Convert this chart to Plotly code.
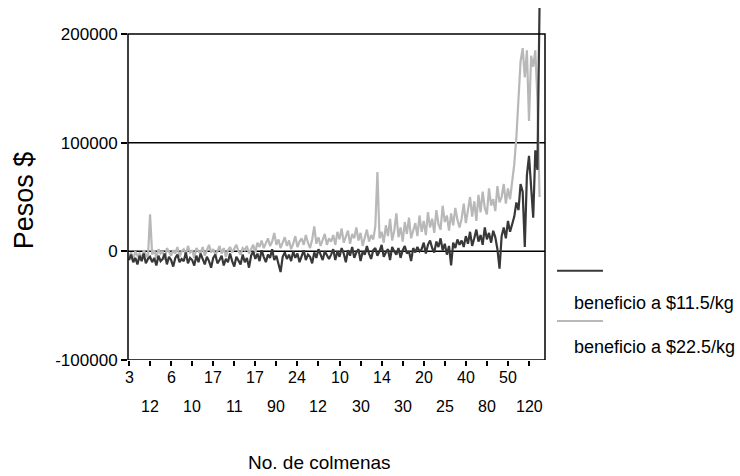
import plotly.graph_objects as go

# Beneficio (pesos) por observación
beneficio_11_5 = [
    -8000, -3000, -10000, -6000, -12000, -4000, -9000, -2000, -11000, -7000, -5000,
    -10000, -6000, -13000, -4000, -9000, -7000, -2000, -12000, -5000, -8000,
    -14000, -6000, -3000, -10000, -7000, -9000, -1000, -11000, -6000, -8000,
    -13000, -4000, -10000, -2000, -7000, -12000, -5000, -9000, -15000, -6000,
    -3000, -11000, -8000, -4000, -13000, -7000, -10000, -2000, -9000, -14000,
    -5000, -8000, -12000, -3000, -10000, -6000, -15000,
    -4000, 0, -7000, -2000, -9000, 1000, -5000, -10000, -3000, -6000,
    2000, -8000, -4000, -12000, -19000, -5000, -1000, -7000, -3000, -9000,
    0, -6000, -2000, -10000, -4000, 1000, -8000, -3000, -5000, -11000,
    -1000, -6000, 2000, -4000, -8000, 0, -3000, -7000,
    -3000, 2000, -8000, 0, -5000, 3000, -2000, -10000, 1000, -4000,
    4000, -6000, -1000, 2000, -9000, 0, -3000, 5000, -2000, -7000,
    1000, 3000, -4000, 0, 6000, -5000, -1000, 2000, -8000, 4000,
    0, -3000, 3000, -6000, 1000, 5000, -2000, 0, -9000, 3000,
    -1000, 4000, 0,
    2000, 8000, -2000, 6000, 10000, 3000, -1000, 9000, 4000, 12000,
    1000, 7000, -3000, 5000, -13000, 8000, 3000, 11000, 6000,
    10000, 4000, 14000, 7000, 18000, 5000, 12000, 20000, 9000, 15000,
    6000, 22000, 11000, 17000, 8000, 19000, 13000, 2000, -16000,
    14000, 22000, 12000, 28000, 18000, 25000, 32000, 45000, 38000, 62000,
    55000, 4000, 70000, 88000, 60000, 31000, 93000, 75000, 226000,
]

beneficio_22_5 = [
    -5000, -1000, -8000, 0, -4000, -2000, -7000, 1000, -3000, -6000, 34000,
    -3000, 1000, -6000, 2000, -2000, 0, -8000, 3000, -1000, -4000,
    1000, -2000, 4000, -5000, 0, 2000, -3000, 5000, -1000, 1000,
    -6000, 3000, 0, -2000, 4000, -4000, 1000, 6000, -1000, 2000,
    -3000, 0, 5000, -2000, 3000, -5000, 1000, 4000, -1000, 2000,
    6000, 0, -3000, 3000, 1000, 5000, -2000,
    2000, 6000, -1000, 8000, 4000, 10000, 3000, 7000, 12000, 5000,
    9000, 17000, 6000, 11000, 3000, 8000, 13000, 5000, 10000, 2000,
    7000, 14000, 4000, 9000, 12000, 6000, 15000, 8000, 3000, 11000,
    23000, 7000, 13000, 5000, 10000, 16000, 6000, 12000,
    9000, 15000, 6000, 18000, 11000, 21000, 8000, 14000, 19000, 7000,
    16000, 12000, 22000, 10000, 17000, 5000, 13000, 20000, 9000, 15000,
    11000, 23000, 73000, 12000, 18000, 8000, 24000, 14000, 30000, 10000,
    19000, 35000, 13000, 22000, 9000, 27000, 16000, 31000, 12000, 20000,
    26000, 14000, 33000,
    18000, 28000, 15000, 36000, 22000, 30000, 17000, 38000, 25000, 20000,
    42000, 27000, 33000, 19000, 35000, 24000, 40000, 29000, 22000,
    30000, 44000, 26000, 38000, 50000, 32000, 46000, 28000, 52000, 36000,
    55000, 40000, 34000, 58000, 42000, 48000, 37000, 60000, 45000,
    50000, 62000, 44000, 58000, 48000, 65000, 80000, 105000, 135000, 175000,
    187000, 160000, 185000, 120000, 180000, 170000, 185000, 140000, 50000,
]

observacion = list(range(len(beneficio_11_5)))

# Etiquetas del eje x (No. de colmenas) en posiciones de observación
tick_pos = [0, 10, 20, 30, 40, 50, 60, 70, 80, 90, 100, 110, 120, 130, 140, 150, 160, 170, 180, 190]
tick_labels = ["3", "12", "6", "10", "17", "11", "17", "90", "24", "12",
               "10", "30", "14", "30", "20", "25", "40", "80", "50", "120"]

y_ticks = [-100000, 0, 100000, 200000]
y_labels = ["-100000", "0", "100000", "200000"]

series_names = ["beneficio a $11.5/kg", "beneficio a $22.5/kg"]
series_colors = ["#383838", "#b8b8b8"]

FONT = "Arial, Liberation Sans, sans-serif"

fig = go.Figure()
fig.add_trace(go.Scatter(x=observacion, y=beneficio_22_5, mode="lines",
                         line=dict(color=series_colors[1], width=2.2),
                         name=series_names[1], showlegend=False))
fig.add_trace(go.Scatter(x=observacion, y=beneficio_11_5, mode="lines",
                         line=dict(color=series_colors[0], width=2.2),
                         name=series_names[0], showlegend=False))

# Marco y líneas de referencia
fig.add_shape(type="rect", xref="paper", yref="y", x0=0, x1=1, y0=-100000, y1=200000,
              line=dict(color="black", width=1.5), layer="above")
for gv in [0, 100000]:
    fig.add_shape(type="line", xref="paper", yref="y", x0=0, x1=1, y0=gv, y1=gv,
                  line=dict(color="black", width=1.5), layer="below")

annotations = []
# Etiquetas x en dos filas
for k, (p, lab) in enumerate(zip(tick_pos, tick_labels)):
    annotations.append(dict(x=p, xref="x", y=-0.0483 if k % 2 == 0 else -0.1307, yref="paper",
                            text=lab, showarrow=False, xanchor="center", yanchor="middle",
                            font=dict(family=FONT, size=16, color="black")))

annotations.append(dict(x=-0.249, xref="paper", y=0.4545, yref="paper", text="Pesos $",
                        textangle=-90, showarrow=False, xanchor="center", yanchor="middle",
                        font=dict(family=FONT, size=27, color="black")))
annotations.append(dict(x=0.4604, xref="paper", y=-0.2926, yref="paper", text="No. de colmenas",
                        showarrow=False, xanchor="center", yanchor="middle",
                        font=dict(family=FONT, size=19, color="black")))

# Leyenda manual
legend_line_y = [0.2537, 0.1108]
legend_text_y = [0.162, 0.0369]
for name, color, ly, ty in zip(series_names, series_colors, legend_line_y, legend_text_y):
    fig.add_shape(type="line", xref="paper", yref="paper", x0=1.0288, x1=1.139, y0=ly, y1=ly,
                  line=dict(color=color, width=2))
    annotations.append(dict(x=1.0647, xref="paper", y=ty, yref="paper", text=name,
                            showarrow=False, xanchor="left", yanchor="middle",
                            font=dict(family=FONT, size=18, color="black")))

fig.update_layout(
    width=740, height=476,
    margin=dict(l=128, r=195, t=8, b=116),
    paper_bgcolor="white", plot_bgcolor="white",
    showlegend=False,
    annotations=annotations,
    font=dict(family=FONT, size=16, color="black"),
    xaxis=dict(range=[-0.475, 197.6], tickmode="array", tickvals=tick_pos,
               ticktext=["" for _ in tick_pos], ticks="outside", ticklen=5,
               tickwidth=1.5, tickcolor="black", showgrid=False, zeroline=False,
               showline=False),
    yaxis=dict(range=[-100000, 224000], tickmode="array", tickvals=y_ticks,
               ticktext=y_labels, ticks="outside", ticklen=6, tickwidth=1.5,
               tickcolor="black", showgrid=False, zeroline=False, showline=False,
               tickfont=dict(family=FONT, size=17, color="black")),
)

fig.write_html("out.html", config={"displayModeBar": False},
               post_script="document.body.style.margin='0';document.body.style.overflow='hidden';")
